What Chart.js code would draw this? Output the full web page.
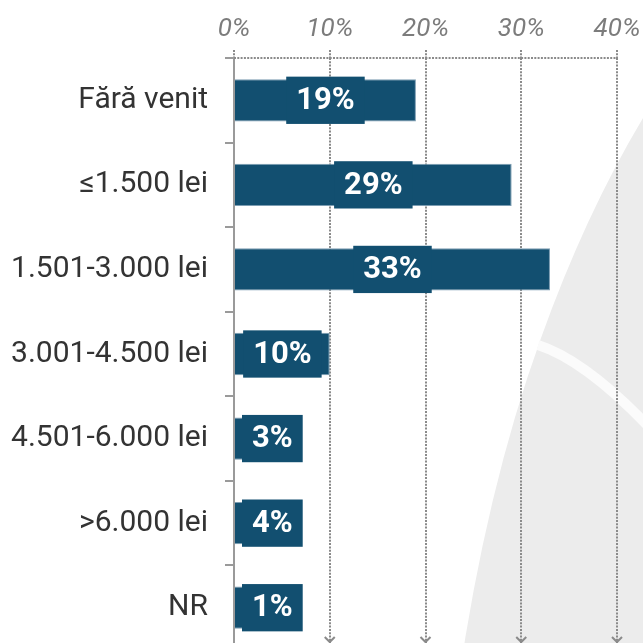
<!DOCTYPE html>
<html>
<head>
<meta charset="utf-8">
<script src="https://cdn.jsdelivr.net/npm/chart.js@4"></script>
<style>
  html, body { margin: 0; padding: 0; background: #fff; overflow: hidden; }
  #wrap { width: 643px; height: 685px; }
</style>
</head>
<body>
<div id="wrap"><canvas id="chart" width="643" height="685"></canvas></div>
<script>
const categories = ['Fără venit', '≤1.500 lei', '1.501-3.000 lei', '3.001-4.500 lei', '4.501-6.000 lei', '>6.000 lei', 'NR'];
const shares = [19, 29, 33, 10, 3, 4, 1];
const axisMax = 40;
const axisStep = 10;

const barColor = '#124f70';
const gridColor = '#8a8a8a';

// light grey shape behind the chart (decoration)
const watermark = {
    id: 'watermark',
    beforeDraw(chart) {
        const ctx = chart.ctx;
        ctx.save();
        ctx.fillStyle = '#ececec';
        ctx.beginPath();
        ctx.moveTo(643, 118);
        ctx.quadraticCurveTo(585, 215, 541, 338);
        ctx.quadraticCurveTo(486, 490, 458, 685);
        ctx.lineTo(643, 685);
        ctx.closePath();
        ctx.fill();

        ctx.strokeStyle = '#fbfbfb';
        ctx.lineWidth = 10;
        ctx.beginPath();
        ctx.moveTo(538, 345);
        ctx.quadraticCurveTo(585, 360, 650, 428);
        ctx.stroke();
        ctx.restore();
    }
};

// value labels in a box of the bar colour
const barLabels = {
    id: 'barLabels',
    afterDatasetsDraw(chart) {
        const ctx = chart.ctx;
        const meta = chart.getDatasetMeta(0);
        const left = chart.chartArea.left;
        ctx.save();
        ctx.font = 'bold 31px Roboto';
        ctx.textAlign = 'center';
        ctx.textBaseline = 'middle';
        meta.data.forEach((bar, i) => {
            const text = shares[i] + '%';
            const w = ctx.measureText(text).width + 20;
            const h = bar.height + 5;
            const cx = Math.max((bar.x + bar.base) / 2, left + 8 + w / 2);
            ctx.fillStyle = barColor;
            ctx.fillRect(cx - w / 2, bar.y - h / 2, w, h);
            ctx.fillStyle = '#ffffff';
            ctx.fillText(text, cx, bar.y + 1);
        });
        ctx.restore();
    }
};

// dotted top line and arrow heads at the bottom of the grid lines
const axisExtras = {
    id: 'axisExtras',
    afterDraw(chart) {
        const ctx = chart.ctx;
        const area = chart.chartArea;
        const xScale = chart.scales.x;
        ctx.save();
        ctx.strokeStyle = gridColor;
        ctx.lineWidth = 2;
        ctx.setLineDash([2, 1.3]);
        ctx.beginPath();
        ctx.moveTo(area.left, area.top);
        ctx.lineTo(area.right, area.top);
        ctx.stroke();

        ctx.setLineDash([]);
        ctx.lineWidth = 2;
        xScale.ticks.forEach(t => {
            if (t.value === 0) return;
            const x = xScale.getPixelForValue(t.value);
            ctx.beginPath();
            ctx.moveTo(x - 5, 637);
            ctx.lineTo(x, 642);
            ctx.lineTo(x + 5, 637);
            ctx.stroke();
        });
        ctx.restore();
    }
};

const ctx = document.getElementById('chart').getContext('2d');
new Chart(ctx, {
    type: 'bar',
    data: {
        labels: categories,
        datasets: [{
            data: shares,
            backgroundColor: barColor,
            borderColor: '#7c9db2',
            borderWidth: 1,
            borderSkipped: 'start',
            barPercentage: 1,
            categoryPercentage: 0.5
        }]
    },
    options: {
        indexAxis: 'y',
        responsive: false,
        animation: false,
        devicePixelRatio: 1,
        layout: { padding: { left: 0, right: 26, top: 0, bottom: 0 } },
        plugins: {
            legend: { display: false },
            tooltip: { enabled: false }
        },
        scales: {
            x: {
                position: 'top',
                min: 0,
                max: axisMax,
                ticks: {
                    stepSize: axisStep,
                    callback: v => v + '%',
                    color: '#7c7c7c',
                    font: { family: 'Roboto', size: 26, style: 'italic' },
                    padding: 5,
                    maxRotation: 0
                },
                grid: {
                    color: gridColor,
                    lineWidth: 2,
                    tickLength: 8,
                    tickColor: gridColor,
                    tickWidth: 2,
                    tickBorderDash: [2, 1.3]
                },
                border: { display: false, dash: [2, 1.3] },
                afterFit(s) {
                    s.height = 58;
                    s.paddingLeft = 0;
                    s.paddingRight = 0;
                }
            },
            y: {
                position: 'left',
                grid: {
                    drawOnChartArea: false,
                    tickLength: 9,
                    color: '#9a9a9a',
                    lineWidth: 2,
                    offset: true
                },
                border: { color: '#9a9a9a', width: 2 },
                ticks: {
                    color: '#333333',
                    font: { family: 'Roboto', size: 30 },
                    padding: 17
                },
                afterFit(s) { s.width = 234; }
            }
        }
    },
    plugins: [watermark, barLabels, axisExtras]
});
</script>
</body>
</html>
